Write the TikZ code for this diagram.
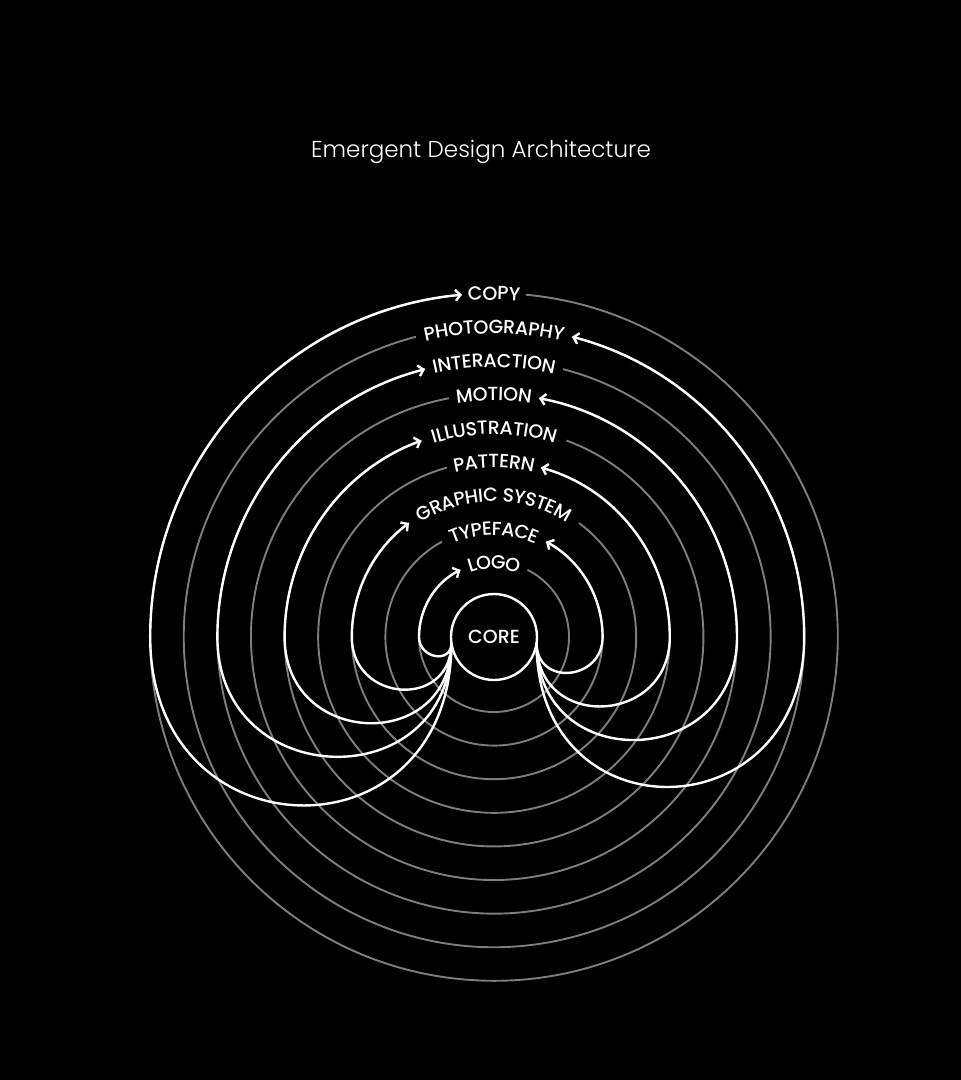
\documentclass[tikz,border=0pt]{standalone}
\usepackage{fontspec}
\usepackage{tikz}
\usetikzlibrary{arrows.meta}
\usetikzlibrary{decorations.text}
\usetikzlibrary{calc}
\IfFontExistsTF{Poppins Medium}{\newfontfamily\labelfam{Poppins Medium}}{\newfontfamily\labelfam{Poppins}}
\IfFontExistsTF{Poppins Light}{\newfontfamily\titlefam{Poppins Light}}{\newfontfamily\titlefam{Poppins}}
\newcommand{\labfont}{\labelfam\fontsize{19}{19}\selectfont}
\newcommand{\ttlfont}{\titlefam\fontsize{23}{23}\selectfont}
\definecolor{RingGray}{HTML}{7E7E7E}

\begin{document}
\begin{tikzpicture}[x=1pt,y=1pt]
	\tikzstyle{Ring}=[draw=RingGray,line width=1.9pt]
	\tikzstyle{Flow}=[draw=white,line width=2.4pt,-{Straight Barb[length=5pt,width=11pt]}]
	\tikzstyle{Core}=[circle,draw=white,line width=2.4pt,minimum size=86pt,inner sep=0pt,outer sep=0pt,text=white,font=\labfont]

	\def\rzero {75}
	\def\rstep {33.6}
	\def\pad {6}

	\fill [black] (-494,-443) rectangle (467,637);
	\useasboundingbox (-494,-443) rectangle (467,637);

	\node [text=white,font=\ttlfont] (title) at (-13,485) {Emergent Design Architecture};

	% label / half width of the label
	\foreach \lab/\hw [count=\k] in {LOGO/27.5,TYPEFACE/46,GRAPHIC SYSTEM/79,PATTERN/41,ILLUSTRATION/66.5,MOTION/39,INTERACTION/63,PHOTOGRAPHY/72,COPY/26}
	{
		\pgfmathsetmacro{\r}{\rzero + \rstep*(\k-1)}
		\pgfmathsetmacro{\ga}{asin((\hw + \pad)/\r)}

		\ifodd\k
			\draw [Ring] (90-\ga:\r) arc[start angle=90-\ga, end angle=-270+\ga, radius=\r];
		\else
			\draw [Ring] (90+\ga:\r) arc[start angle=90+\ga, end angle=450-\ga, radius=\r];
		\fi

		\path [decorate,decoration={text along path,text/.expanded={|\noexpand\labfont|\lab},text align=center,text color=white,raise=-6.7pt}]
			(135:\r) arc[start angle=135, end angle=45, radius=\r];
	}

	\node [Core] (core) at (0,0) {CORE};

	\foreach \lab/\hw [count=\k] in {LOGO/27.5,TYPEFACE/46,GRAPHIC SYSTEM/79,PATTERN/41,ILLUSTRATION/66.5,MOTION/39,INTERACTION/63,PHOTOGRAPHY/72,COPY/26}
	{
		\pgfmathsetmacro{\r}{\rzero + \rstep*(\k-1)}
		\pgfmathsetmacro{\ga}{asin((\hw + \pad)/\r)}
		\pgfmathsetmacro{\depth}{(\r-43)*2/3*(\k>7 ? 1.1 : 1)}

		\ifodd\k
			\coordinate (foot\k) at (-\r,0);
			\draw [Flow] (core.188) .. controls ($(core.188)+(0,-\depth)$) and (-\r,-\depth) .. (foot\k)
				arc[start angle=180, end angle=90+\ga, radius=\r];
		\else
			\coordinate (foot\k) at (\r,0);
			\draw [Flow] (core.352) .. controls ($(core.352)+(0,-\depth)$) and (\r,-\depth) .. (foot\k)
				arc[start angle=0, end angle=90-\ga, radius=\r];
		\fi
	}
\end{tikzpicture}
\end{document}
